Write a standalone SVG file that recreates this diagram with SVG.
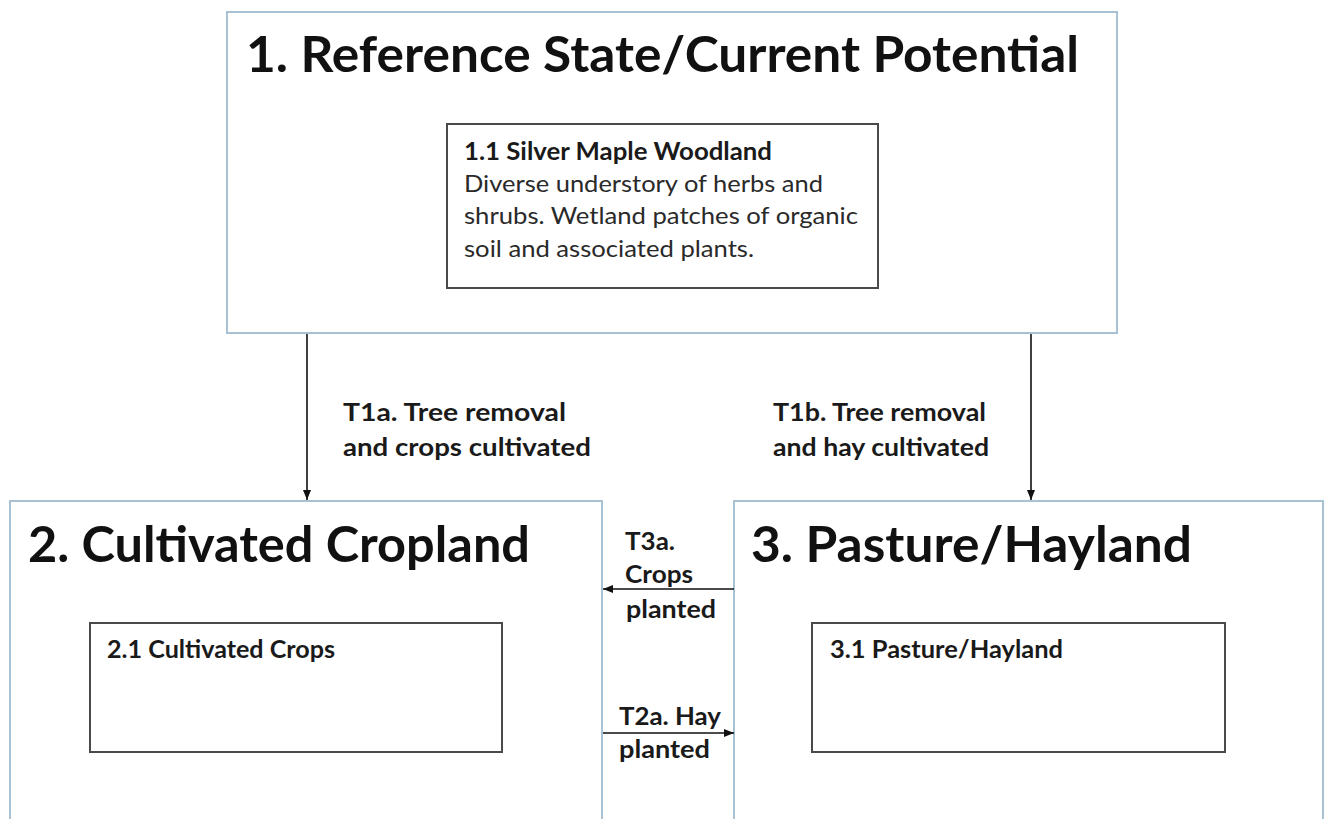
<svg xmlns="http://www.w3.org/2000/svg" width="1326" height="819" viewBox="0 0 1326 819">
  <style>
    .state { fill: #ffffff; stroke: #a9c2d3; stroke-width: 2; }
    .comm { fill: #ffffff; stroke: #4a4a4a; stroke-width: 2; }
    .title { font-family: Lato, "Liberation Sans", sans-serif; font-weight: bold; font-size: 49px; fill: #111111; }
    .ctitle { font-family: Lato, "Liberation Sans", sans-serif; font-weight: bold; font-size: 24px; fill: #1a1a1a; }
    .cbody { font-family: Lato, "Liberation Sans", sans-serif; font-size: 24px; fill: #2a2a2a; }
    .tlabel { font-family: Lato, "Liberation Sans", sans-serif; font-weight: bold; font-size: 25px; fill: #1a1a1a; }
    .conn { stroke: #111111; stroke-width: 1.6; fill: none; marker-end: url(#arrow); }
  </style>
  <defs>
    <marker id="arrow" markerUnits="userSpaceOnUse" markerWidth="10" markerHeight="10" viewBox="0 0 10 10" refX="10" refY="5" orient="auto">
      <path d="M0,1 L10,5 L0,9 Z" fill="#111111"/>
    </marker>
  </defs>
  <rect width="1326" height="819" fill="#ffffff"/>

  <g id="state1">
    <rect class="state" x="227" y="12" width="890" height="321"/>
    <text class="title" x="246" y="72" textLength="833" lengthAdjust="spacingAndGlyphs">1. Reference State/Current Potential</text>
    <g id="community1-1">
      <rect class="comm" x="447" y="124" width="431" height="164"/>
      <text class="ctitle" x="464" y="160" textLength="308" lengthAdjust="spacingAndGlyphs">1.1 Silver Maple Woodland</text>
      <text class="cbody" x="464" y="192" textLength="359" lengthAdjust="spacingAndGlyphs">Diverse understory of herbs and</text>
      <text class="cbody" x="464" y="224" textLength="394" lengthAdjust="spacingAndGlyphs">shrubs. Wetland patches of organic</text>
      <text class="cbody" x="464" y="257" textLength="290" lengthAdjust="spacingAndGlyphs">soil and associated plants.</text>
    </g>
  </g>

  <g id="state2">
    <rect class="state" x="10" y="501" width="592" height="330"/>
    <text class="title" x="28" y="562" textLength="502" lengthAdjust="spacingAndGlyphs">2. Cultivated Cropland</text>
    <g id="community2-1">
      <rect class="comm" x="90" y="623" width="412" height="129"/>
      <text class="ctitle" x="107" y="658" textLength="228" lengthAdjust="spacingAndGlyphs">2.1 Cultivated Crops</text>
    </g>
  </g>

  <g id="state3">
    <rect class="state" x="734" y="501" width="589" height="330"/>
    <text class="title" x="751" y="562" textLength="441" lengthAdjust="spacingAndGlyphs">3. Pasture/Hayland</text>
    <g id="community3-1">
      <rect class="comm" x="812" y="623" width="413" height="129"/>
      <text class="ctitle" x="830" y="658" textLength="233" lengthAdjust="spacingAndGlyphs">3.1 Pasture/Hayland</text>
    </g>
  </g>

  <g id="connectors">
    <line class="conn" x1="307" y1="334" x2="307" y2="500"/>
    <line class="conn" x1="1031" y1="334" x2="1031" y2="500"/>
    <line class="conn" x1="734" y1="589" x2="603" y2="589"/>
    <line class="conn" x1="603" y1="733" x2="734" y2="733"/>
  </g>

  <g id="labels">
    <text class="tlabel" x="343" y="421" textLength="223" lengthAdjust="spacingAndGlyphs">T1a. Tree removal</text>
    <text class="tlabel" x="343" y="456" textLength="248" lengthAdjust="spacingAndGlyphs">and crops cultivated</text>
    <text class="tlabel" x="773" y="421" textLength="213" lengthAdjust="spacingAndGlyphs">T1b. Tree removal</text>
    <text class="tlabel" x="773" y="456" textLength="216" lengthAdjust="spacingAndGlyphs">and hay cultivated</text>
    <text class="tlabel" x="625" y="550" textLength="50" lengthAdjust="spacingAndGlyphs">T3a.</text>
    <text class="tlabel" x="625" y="583" textLength="68" lengthAdjust="spacingAndGlyphs">Crops</text>
    <text class="tlabel" x="626" y="618" textLength="90" lengthAdjust="spacingAndGlyphs">planted</text>
    <text class="tlabel" x="619" y="725" textLength="102" lengthAdjust="spacingAndGlyphs">T2a. Hay</text>
    <text class="tlabel" x="619" y="758" textLength="91" lengthAdjust="spacingAndGlyphs">planted</text>
  </g>
</svg>
